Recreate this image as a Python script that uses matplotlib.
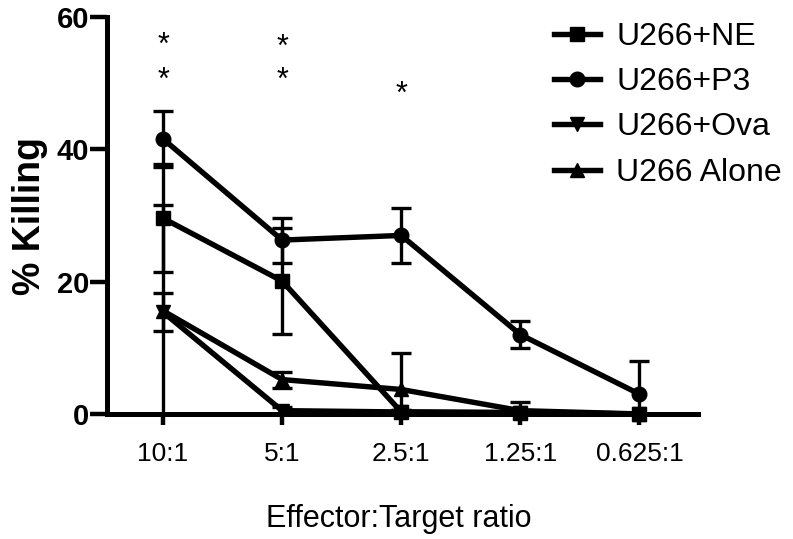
import numpy as np
import matplotlib
matplotlib.use("Agg")
import matplotlib.pyplot as plt

plt.rcParams['font.family'] = ['Liberation Sans', 'DejaVu Sans']

# values
ratios = ["10:1", "5:1", "2.5:1", "1.25:1", "0.625:1"]
ne = [29.6, 20.1, 0.3, 0.2, 0.0]
ne_err = [8.2, 8.0, 0.3, 0.2, 0.0]
p3 = [41.6, 26.3, 27.0, 12.0, 3.0]
p3_err = [4.2, 3.4, 4.2, 2.0, 5.0]
ova = [15.4, 0.5, 0.3, 0.2, 0.0]
ova_err = [2.9, 0.5, 0.3, 0.2, 0.0]
alone = [15.6, 5.2, 3.7, 0.5, 0.0]
alone_err = [16.0, 1.2, 5.5, 1.3, 0.0]

# significance stars
star_x = [0, 0, 1, 1, 2]
star_y = [56.5, 51.2, 56.3, 51.2, 49.2]

series = [
    ("U266+NE", ne, ne_err, "s"),
    ("U266+P3", p3, p3_err, "o"),
    ("U266+Ova", ova, ova_err, "v"),
    ("U266 Alone", alone, alone_err, "^"),
]

fig = plt.figure(figsize=(7.93, 5.39), dpi=100)
ax = fig.add_axes([0.135, 0.232, 0.745, 0.736])
x = np.arange(len(ratios))

for label, vals, err, m in series:
    # error bars first (clipped at 0), then line+markers on top
    ax.errorbar(x, vals, yerr=err, fmt="none", ecolor="black",
                elinewidth=2.4, capsize=7, capthick=2.4, zorder=2)
    ax.plot(x, vals, color="black", lw=3.9, marker=m, markersize=10.5,
            label=label, clip_on=False, zorder=3)

for sx, sy in zip(star_x, star_y):
    # shift so the glyph (not the text box) sits on the value
    ax.annotate("*", (sx, sy), xytext=(0, -10), textcoords="offset points",
                ha="center", va="baseline", fontsize=22)

ax.set_xlim(-0.47, 4.49)
ax.set_ylim(0, 60)
ax.set_yticks([0, 20, 40, 60])
ax.set_xticks(x)
ax.set_xticklabels(ratios, fontsize=19)
for t in ax.get_yticklabels():
    t.set_fontsize(21)
    t.set_fontweight("bold")

ax.spines["top"].set_visible(False)
ax.spines["right"].set_visible(False)
ax.spines["left"].set_linewidth(3.6)
ax.spines["bottom"].set_linewidth(3.6)
ax.tick_params(axis="y", length=12, width=3.2, pad=1)
ax.tick_params(axis="x", length=8, width=3.2, pad=12)

ax.set_ylabel("% Killing", fontsize=27, fontweight="bold", labelpad=6)
fig.text(0.503, 0.037, "Effector:Target ratio", ha="center", va="center", fontsize=22)

ax.legend(loc="upper left", bbox_to_anchor=(541 / 793, 1 - 9 / 539),
          bbox_transform=fig.transFigure, frameon=False, borderaxespad=0,
          fontsize=23, handlelength=1.45, handletextpad=0.5, labelspacing=0.48)

fig.savefig("out.png", dpi=100)
